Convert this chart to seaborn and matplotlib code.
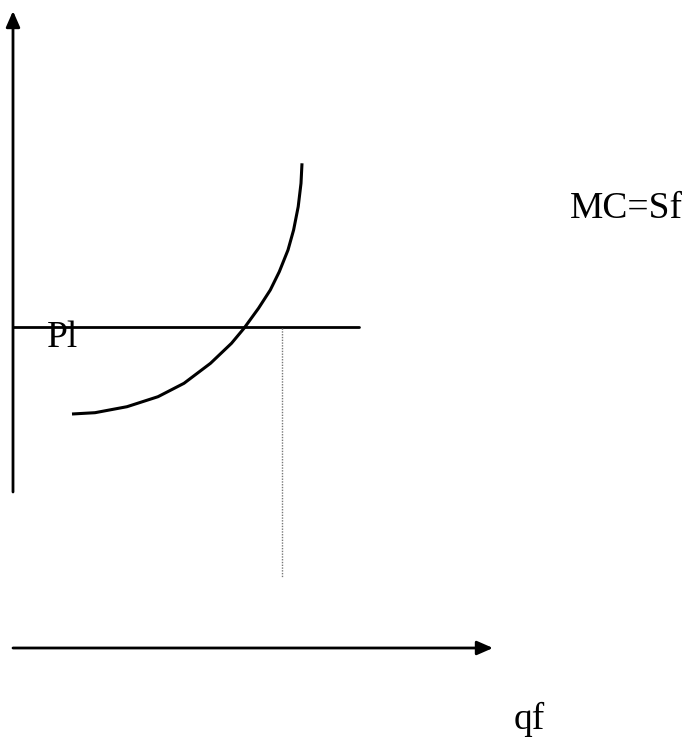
import matplotlib
matplotlib.use("Agg")
import matplotlib.pyplot as plt
import pandas as pd
import seaborn as sns

# Marginal cost / firm supply curve (quantity, price)
curve_q = [72.0, 95.0, 127.0, 158.0, 184.0, 210.5, 231.5, 244.0, 258.5,
           270.3, 279.3, 288.0, 293.6, 298.2, 301.0, 302.0]
curve_p = [328.0, 329.3, 335.3, 345.3, 358.7, 378.7, 398.7, 413.7, 433.7,
           452.0, 470.3, 492.0, 512.0, 535.3, 558.7, 578.7]

# Price line and chosen firm output
price_level = 415.0
price_line_q = [13.0, 359.0]
firm_output = 282.0
output_drop_p = [414.0, 165.0]

# Axes of the diagram
price_axis_q = 13.0
price_axis_p = [250.0, 731.0]
qty_axis_p = 94.0
qty_axis_q = [13.0, 493.0]

labels = {"curve": "MC=Sf", "price": "Pl", "qty": "qf"}

sns.set_theme(style="white")
plt.rcParams["font.family"] = ["Liberation Serif", "DejaVu Serif"]

fig = plt.figure(figsize=(6.9, 7.42), dpi=100)
ax = fig.add_axes([0, 0, 1, 1])
ax.set_xlim(0, 690)
ax.set_ylim(0, 742)
ax.axis("off")

line_kw = dict(estimator=None, errorbar=None, sort=False, ax=ax)

curve_df = pd.DataFrame({"q": curve_q, "p": curve_p})
sns.lineplot(data=curve_df, x="q", y="p", color="black", linewidth=2.2,
             solid_joinstyle="round", solid_capstyle="butt", **line_kw)

price_df = pd.DataFrame({"q": price_line_q, "p": [price_level] * 2})
sns.lineplot(data=price_df, x="q", y="p", color="black", linewidth=2.0,
             **line_kw)

drop_df = pd.DataFrame({"q": [firm_output] * 2, "p": output_drop_p})
sns.lineplot(data=drop_df, x="q", y="p", color="#777777", linewidth=1.0,
             linestyle=(0, (1, 1)), **line_kw)

arrow = dict(arrowstyle="-|>,head_length=0.8,head_width=0.35", lw=2.0,
             color="black", shrinkA=0, shrinkB=0)
ax.annotate("", xy=(price_axis_q, price_axis_p[1]),
            xytext=(price_axis_q, price_axis_p[0]), arrowprops=arrow)
ax.annotate("", xy=(qty_axis_q[1], qty_axis_p),
            xytext=(qty_axis_q[0], qty_axis_p), arrowprops=arrow)

ax.text(570, 742 - 218, labels["curve"], fontsize=27, color="black",
        ha="left", va="baseline")
ax.text(47, 742 - 347, labels["price"], fontsize=27, color="black",
        ha="left", va="baseline")
ax.text(514, 742 - 729, labels["qty"], fontsize=27, color="black",
        ha="left", va="baseline")

fig.savefig("out.png", dpi=100, facecolor="white")
